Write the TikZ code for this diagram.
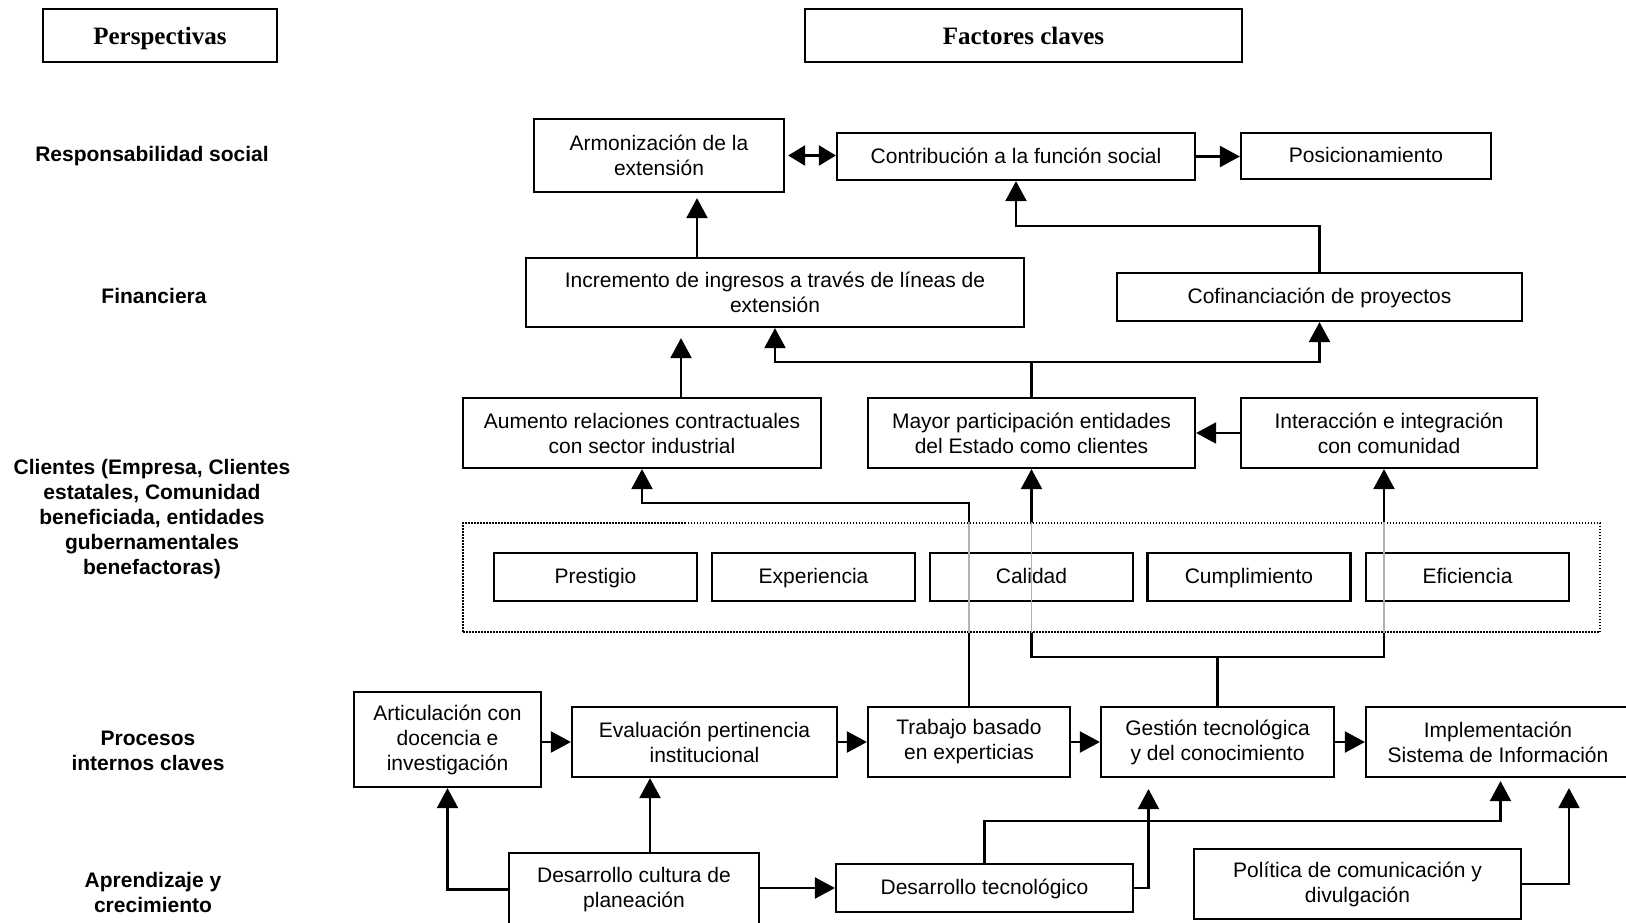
\documentclass[tikz,border=0pt]{standalone}
\usepackage{fontspec}
\setmainfont{Liberation Sans}
\newfontfamily\serifttl{Liberation Serif}
\usetikzlibrary{arrows.meta,calc}
\begin{document}
\begin{tikzpicture}[x=1pt,y=-1pt,
  box/.style={draw, line width=2.2pt, inner sep=0pt, align=center, font=\fontsize{21}{25}\selectfont},
  one/.style={text height=15pt, text depth=1.5pt},
  ibox/.style={box, one, line width=2.4pt, minimum width=203pt, minimum height=48pt},
  ttl/.style={draw, line width=2.2pt, inner sep=0pt, minimum height=53pt, text height=17pt, text depth=0pt, font=\serifttl\bfseries\fontsize{25}{30}\selectfont},
  lbl/.style={align=center, inner sep=0pt, font=\bfseries\fontsize{21}{25}\selectfont},
  ln/.style={line width=2.2pt},
  arr/.style={line width=2.2pt, -{Triangle[length=20pt,width=21pt]}},
  dbl/.style={line width=2.2pt, {Triangle[length=17pt,width=20pt]}-{Triangle[length=17pt,width=20pt]}},
  dotbox/.style={draw, fill=white, line width=1.6pt, dash pattern=on 1.5pt off 1.5pt, inner sep=0pt},
  grayline/.style={draw=black!30, line width=1.2pt}]
\useasboundingbox (0,0) rectangle (1626,922);

% titles
\node[ttl, minimum width=234pt] (persp) at (160,35.5) {Perspectivas};
\node[ttl, minimum width=437pt] (fact) at (1023.5,35.5) {Factores claves};

% left labels
\node[lbl] (l1) at (152,156) {Responsabilidad social};
\node[lbl] (l2) at (154,296) {Financiera};
\node[lbl] (l3) at (152,519.5) {Clientes (Empresa, Clientes\\estatales, Comunidad\\beneficiada, entidades\\gubernamentales\\benefactoras)};
\node[lbl] (l4) at (148,751) {Procesos\\internos claves};
\node[lbl] (l5) at (153,892.5) {Aprendizaje y\\crecimiento};

% main boxes
\node[box, minimum width=250pt, minimum height=73pt] (armon) at (659,155.5) {Armonización de la\\extensión};
\node[box, one, minimum width=358pt, minimum height=47pt] (contrib) at (1016,156.5) {Contribución a la función social};
\node[box, one, minimum width=250pt, minimum height=46pt] (posic) at (1366,156) {Posicionamiento};
\node[box, minimum width=498pt, minimum height=69pt] (increm) at (775,292.5) {Incremento de ingresos a través de líneas de\\extensión};
\node[box, one, minimum width=405pt, minimum height=48pt] (cofin) at (1319.5,297) {Cofinanciación de proyectos};
\node[box, minimum width=358pt, minimum height=70pt] (aumento) at (642,433) {Aumento relaciones contractuales\\con sector industrial};
\node[box, minimum width=327pt, minimum height=70pt] (mayor) at (1031.5,433) {Mayor participación entidades\\del Estado como clientes};
\node[box, minimum width=296pt, minimum height=70pt] (interac) at (1389,433) {Interacción e integración\\con comunidad};
\node[box, minimum width=187pt, minimum height=95pt] (artic) at (447.5,739.5) {Articulación con\\docencia e\\investigación};
\node[box, minimum width=265pt, minimum height=70pt] (evalu) at (704.5,742) {Evaluación pertinencia\\institucional};
\node[box, minimum width=202pt, minimum height=70pt] (trabajo) at (969,742) {Trabajo basado\\en experticias};
\node[box, minimum width=233pt, minimum height=70pt] (gestion) at (1217.5,742) {Gestión tecnológica\\y del conocimiento};
\node[box, minimum width=264pt, minimum height=70pt] (implem) at (1498,742) {Implementación\\Sistema de Información};
\node[box, minimum width=250pt, minimum height=73pt] (descult) at (634,889.5) {Desarrollo cultura de\\planeación};
\node[box, one, minimum width=297pt, minimum height=48pt] (destec) at (984.5,888) {Desarrollo tecnológico};
\node[box, minimum width=327pt, minimum height=70pt] (polit) at (1357.5,884) {Política de comunicación y\\divulgación};

% helper x positions
\coordinate (xa) at (681,0);
\coordinate (xb) at (697,0);
\coordinate (xi) at (1384,0);
\coordinate (xc) at (650,0);
\coordinate (xd) at (1148.5,0);
\coordinate (xe) at (1500.5,0);
\coordinate (xf) at (1569,0);

% top connectors
\draw[arr, shorten >=5pt] (xb |- increm.north) -- (xb |- armon.south);
\draw[dbl, shorten <=3pt] (armon.east) -- (armon.east -| contrib.west);
\draw[arr] (contrib.east) -- (contrib.east -| posic.west);
\draw[arr] (cofin.north) -- ++(0,-46) -| (contrib.south);
\draw[arr, shorten >=10pt] (xa |- aumento.north) -- (xa |- increm.south);
\coordinate (jm) at ($(mayor.north)+(0,-35)$);
\draw[ln] (mayor.north) -- (jm);
\draw[arr] (jm) -| (increm.south);
\draw[arr] (jm) -| (cofin.south);
\draw[arr] (interac.west) -- (mayor.east);

% through the dotted group
\draw[arr] (trabajo.north) -- ++(0,-203) -| (aumento.south);
\coordinate (jg) at ($(gestion.north)+(0,-49)$);
\draw[ln] (gestion.north) -- (jg);
\draw[arr] (jg) -| (mayor.south);
\draw[arr] (jg) -| (xi |- interac.south);

% process chain
\draw[arr] (artic.east |- evalu.west) -- (evalu.west);
\draw[arr] (evalu.east) -- (trabajo.west);
\draw[arr] (trabajo.east) -- (gestion.west);
\draw[arr] (gestion.east) -- (implem.west);

% learning connectors
\draw[arr] (descult.west) -| (artic.south);
\draw[arr] (xc |- descult.north) -- (xc |- evalu.south);
\draw[arr] (descult.east |- destec.west) -- (destec.west);
\draw[arr, shorten >=11pt] (destec.east) -| (xd |- gestion.south);
\draw[arr, shorten >=3pt] (destec.north) -- ++(0,-42) -| (xe |- implem.south);
\draw[arr, shorten >=10pt] (polit.east) -| (xf |- implem.south);

% dotted group with attributes
\node[dotbox, minimum width=1137pt, minimum height=109pt] (grp) at (1031.5,577.5) {};
\node[ibox] (prest) at (595.5,577) {Prestigio};
\node[ibox] (exper) at (813.5,577) {Experiencia};
\node[ibox] (calid) at (1031.5,577) {Calidad};
\node[ibox] (cumpl) at (1249,577) {Cumplimiento};
\node[ibox] (efic) at (1467.5,577) {Eficiencia};

% lines seen through the group
\draw[grayline] (trabajo.north |- grp.north) -- (trabajo.north |- grp.south);
\draw[grayline] (mayor.south |- grp.north) -- (mayor.south |- grp.south);
\draw[grayline] (xi |- grp.north) -- (xi |- grp.south);
\end{tikzpicture}
\end{document}
